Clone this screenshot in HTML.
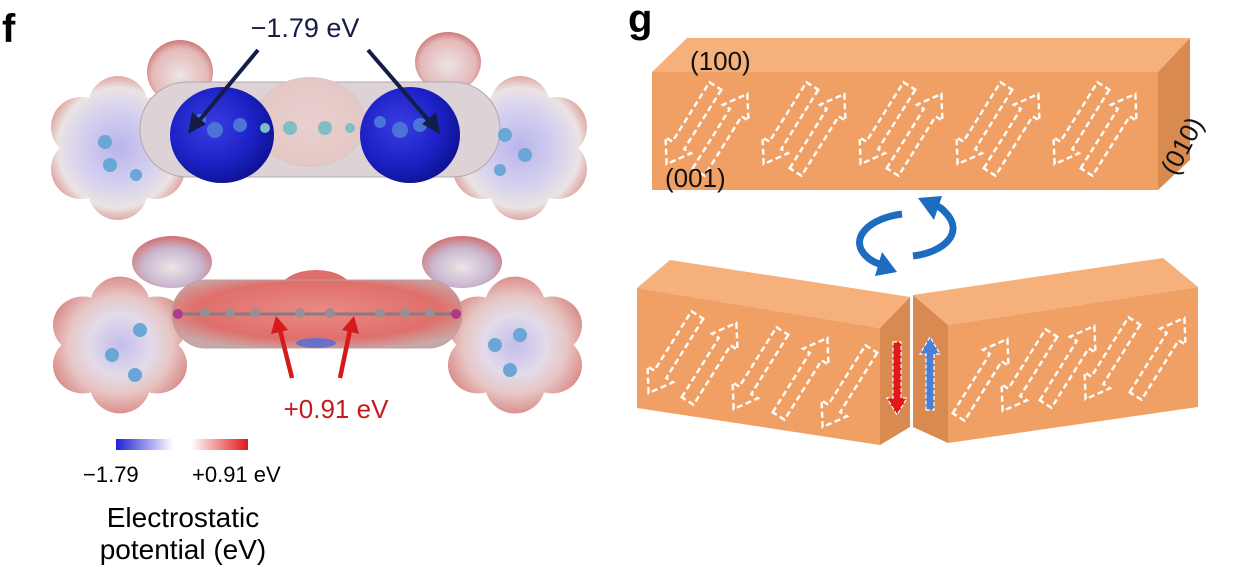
<!DOCTYPE html>
<html><head><meta charset="utf-8"><style>
html,body{margin:0;padding:0;background:#fff;}
svg{display:block;}
text{font-family:"Liberation Sans",sans-serif;}
</style></head><body>
<svg width="1250" height="577" viewBox="0 0 1250 577" xmlns="http://www.w3.org/2000/svg">
<defs>
<radialGradient id="lobe" gradientUnits="userSpaceOnUse" cx="0" cy="0" r="80">
<stop offset="0" stop-color="#b9b4ec"/><stop offset="0.5" stop-color="#d6d2ef"/><stop offset="0.75" stop-color="#ebe3e3"/><stop offset="0.9" stop-color="#dfa9a7"/><stop offset="1" stop-color="#c26868"/>
</radialGradient>
<radialGradient id="lobeR" gradientUnits="userSpaceOnUse" cx="0" cy="0" r="80">
<stop offset="0" stop-color="#c3bdec"/><stop offset="0.4" stop-color="#e2dbe9"/><stop offset="0.65" stop-color="#e7c6c4"/><stop offset="0.88" stop-color="#dc9492"/><stop offset="1" stop-color="#c25a5a"/>
</radialGradient>
<radialGradient id="blue" cx="40%" cy="40%" r="65%">
<stop offset="0" stop-color="#3a3ee0"/><stop offset="0.6" stop-color="#1d22c8"/><stop offset="1" stop-color="#0d1290"/>
</radialGradient>
<radialGradient id="pinkcap" cx="50%" cy="50%" r="60%">
<stop offset="0" stop-color="#e9cfcd"/><stop offset="0.8" stop-color="#e3c8c6"/><stop offset="1" stop-color="#b8a8a8"/>
</radialGradient>
<radialGradient id="redcap" cx="50%" cy="45%" r="60%">
<stop offset="0" stop-color="#e98a86"/><stop offset="0.7" stop-color="#e06f6b"/><stop offset="1" stop-color="#c9a7a6"/>
</radialGradient>
<radialGradient id="bump" cx="50%" cy="55%" r="60%">
<stop offset="0" stop-color="#ece4e6"/><stop offset="0.7" stop-color="#e4b8b8"/><stop offset="1" stop-color="#c86060"/>
</radialGradient>
<radialGradient id="bumpB" cx="50%" cy="60%" r="60%">
<stop offset="0" stop-color="#ece4e6"/><stop offset="0.6" stop-color="#c9b8d0"/><stop offset="1" stop-color="#d07070"/>
</radialGradient>
<linearGradient id="cbB" x1="0" x2="1"><stop offset="0" stop-color="#2020d8"/><stop offset="1" stop-color="#ffffff"/></linearGradient>
<linearGradient id="cbR" x1="0" x2="1"><stop offset="0" stop-color="#ffffff"/><stop offset="1" stop-color="#e01818"/></linearGradient>
<path id="arw" d="M-7,46 L-7,-24 L-15,-24 L0,-46 L15,-24 L7,-24 L7,46 Z" fill="none" stroke="#fff" stroke-width="2.4" stroke-dasharray="6,3.5"/>
<g id="lobeshape">
<circle cx="0" cy="-42" r="30"/><circle cx="37" cy="-21" r="30"/><circle cx="37" cy="21" r="30"/><circle cx="0" cy="42" r="30"/><circle cx="-37" cy="21" r="30"/><circle cx="-37" cy="-21" r="30"/><circle cx="0" cy="0" r="52"/>
</g>
</defs>

<!-- Panel f -->
<text x="2" y="42" font-size="40" font-weight="bold">f</text>

<!-- top molecule -->
<ellipse cx="180" cy="72" rx="33" ry="32" fill="url(#bump)"/>
<ellipse cx="448" cy="62" rx="33" ry="30" fill="url(#bump)"/>
<g fill="url(#lobe)" transform="translate(118,148)"><use href="#lobeshape"/></g>
<g fill="url(#lobe)" transform="translate(520,148)"><use href="#lobeshape"/></g>
<rect x="140" y="82" width="360" height="95" rx="47" fill="#ddd2d6" stroke="#b0a7b0" stroke-width="1"/>
<ellipse cx="310" cy="122" rx="55" ry="45" fill="url(#pinkcap)"/>
<ellipse cx="222" cy="135" rx="52" ry="48" fill="url(#blue)"/>
<ellipse cx="410" cy="135" rx="50" ry="48" fill="url(#blue)"/>
<g fill="#4a74d8">
<circle cx="215" cy="130" r="8"/><circle cx="240" cy="125" r="7"/><circle cx="200" cy="120" r="6"/><circle cx="420" cy="125" r="7"/><circle cx="400" cy="130" r="8"/><circle cx="380" cy="122" r="6"/>
</g>
<g fill="#7fbfc4"><circle cx="290" cy="128" r="7"/><circle cx="325" cy="128" r="7"/><circle cx="265" cy="128" r="5"/><circle cx="350" cy="128" r="5"/></g>
<g fill="#6aa6d6"><circle cx="105" cy="142" r="7"/><circle cx="110" cy="165" r="7"/><circle cx="136" cy="175" r="6"/><circle cx="505" cy="135" r="7"/><circle cx="525" cy="155" r="7"/><circle cx="500" cy="170" r="6"/></g>

<!-- bottom molecule -->
<ellipse cx="172" cy="262" rx="40" ry="26" fill="url(#bumpB)"/>
<ellipse cx="462" cy="262" rx="40" ry="26" fill="url(#bumpB)"/>
<g fill="url(#lobeR)" transform="translate(120,345) scale(1,0.95)"><use href="#lobeshape"/></g>
<g fill="url(#lobeR)" transform="translate(515,345) scale(1,0.95)"><use href="#lobeshape"/></g>
<ellipse cx="316" cy="290" rx="36" ry="20" fill="#de6e6a"/>
<rect x="172" y="280" width="290" height="68" rx="34" fill="url(#redcap)" stroke="#b9a0a0" stroke-width="1"/>
<ellipse cx="316" cy="343" rx="20" ry="5" fill="#6a70c8"/>
<line x1="178" y1="314" x2="456" y2="314" stroke="#8a7b80" stroke-width="3"/>
<g fill="#9a8e92"><circle cx="205" cy="313" r="5"/><circle cx="230" cy="313" r="5"/><circle cx="255" cy="313" r="5"/><circle cx="300" cy="313" r="5"/><circle cx="330" cy="313" r="5"/><circle cx="380" cy="313" r="5"/><circle cx="405" cy="313" r="5"/><circle cx="430" cy="313" r="5"/></g>
<circle cx="178" cy="314" r="5" fill="#b03a8a"/><circle cx="456" cy="314" r="5" fill="#b03a8a"/>
<g fill="#6aa6d6"><circle cx="140" cy="330" r="7"/><circle cx="112" cy="355" r="7"/><circle cx="135" cy="375" r="7"/><circle cx="495" cy="345" r="7"/><circle cx="520" cy="335" r="7"/><circle cx="510" cy="370" r="7"/></g>

<!-- navy arrows -->
<g stroke="#141d48" stroke-width="4" fill="#141d48">
<line x1="258" y1="50" x2="198" y2="122"/>
<line x1="368" y1="50" x2="430" y2="122"/>
</g>
<polygon points="188,134 192,112 206,124" fill="#141d48"/>
<polygon points="440,134 422,124 436,112" fill="#141d48"/>
<text x="305" y="37" font-size="27" fill="#141d48" text-anchor="middle">−1.79 eV</text>

<!-- red arrows -->
<g stroke="#d41a1a" stroke-width="4.5">
<line x1="292" y1="378" x2="280" y2="330"/>
<line x1="340" y1="378" x2="350" y2="330"/>
</g>
<polygon points="276,316 271,334 288,330" fill="#d41a1a"/>
<polygon points="354,316 342,330 359,334" fill="#d41a1a"/>
<text x="336" y="418" font-size="26" fill="#c41c1c" text-anchor="middle">+0.91 eV</text>

<!-- colorbar -->
<rect x="116" y="439" width="57" height="11" fill="url(#cbB)"/>
<rect x="191" y="439" width="57" height="11" fill="url(#cbR)"/>
<text x="83" y="482" font-size="22">−1.79</text>
<text x="192" y="482" font-size="22">+0.91 eV</text>
<text x="183" y="527" font-size="28" text-anchor="middle">Electrostatic</text>
<text x="183" y="559" font-size="28" text-anchor="middle">potential (eV)</text>

<!-- Panel g -->
<text x="628" y="32" font-size="40" font-weight="bold">g</text>

<!-- top box -->
<polygon points="652,72 687,38 1190,38 1158,72" fill="#f5b07c"/>
<polygon points="1158,72 1190,38 1190,160 1158,190" fill="#d98a50"/>
<rect x="652" y="72" width="506" height="118" fill="#f0a064"/>
<g>
<use href="#arw" transform="translate(691,125) rotate(212)"/>
<use href="#arw" transform="translate(723,133) rotate(32)"/>
<use href="#arw" transform="translate(788,125) rotate(212)"/>
<use href="#arw" transform="translate(820,133) rotate(32)"/>
<use href="#arw" transform="translate(885,125) rotate(212)"/>
<use href="#arw" transform="translate(917,133) rotate(32)"/>
<use href="#arw" transform="translate(982,125) rotate(212)"/>
<use href="#arw" transform="translate(1014,133) rotate(32)"/>
<use href="#arw" transform="translate(1079,125) rotate(212)"/>
<use href="#arw" transform="translate(1111,133) rotate(32)"/>
</g>
<text x="690" y="70" font-size="26" fill="#111">(100)</text>
<text x="665" y="187" font-size="26" fill="#111">(001)</text>
<text x="1190" y="150" font-size="26" fill="#111" text-anchor="middle" transform="rotate(-62 1190 150)">(010)</text>

<!-- curved arrows -->
<g fill="none" stroke="#1c6cc0" stroke-width="7" stroke-linecap="butt">
<path d="M902,214 C870,218 848,238 866,256 C872,262 878,264 884,265"/>
<path d="M913,256 C945,252 965,232 945,212 C940,206 934,205 930,204"/>
</g>
<polygon points="897,272 875,276 882,252" fill="#1c6cc0"/>
<polygon points="918,198 942,196 934,220" fill="#1c6cc0"/>

<!-- bottom left box -->
<polygon points="637,288 670,260 910,297 880,328" fill="#f5b07c"/>
<polygon points="880,328 910,297 910,427 880,445" fill="#d98a50"/>
<polygon points="637,288 880,328 880,445 637,408" fill="#f0a064"/>
<g>
<use href="#arw" transform="translate(673,354) rotate(212)"/>
<use href="#arw" transform="translate(712,362) rotate(32)"/>
<use href="#arw" transform="translate(758,370) rotate(212)"/>
<use href="#arw" transform="translate(803,377) rotate(32)"/>
<use href="#arw" transform="translate(847,388) rotate(212)"/>
</g>
<!-- bottom right box -->
<polygon points="913,295 1163,258 1198,287 948,325" fill="#f5b07c"/>
<polygon points="913,295 948,325 948,443 913,427" fill="#d98a50"/>
<polygon points="948,325 1198,287 1198,407 948,443" fill="#f0a064"/>
<g>
<use href="#arw" transform="translate(983,378) rotate(32)"/>
<use href="#arw" transform="translate(1027,372) rotate(212)"/>
<use href="#arw" transform="translate(1070,365) rotate(32)"/>
<use href="#arw" transform="translate(1110,360) rotate(212)"/>
<use href="#arw" transform="translate(1160,357) rotate(32)"/>
</g>
<!-- red / blue arrows -->
<polygon points="893,342 901,342 901,398 907,398 897,415 887,398 893,398" fill="#e01818" stroke="#fff" stroke-width="1.2" stroke-dasharray="4,2"/>
<polygon points="926,410 934,410 934,354 940,354 930,337 920,354 926,354" fill="#4a80d8" stroke="#fff" stroke-width="1.2" stroke-dasharray="4,2"/>
</svg>
</body></html>
